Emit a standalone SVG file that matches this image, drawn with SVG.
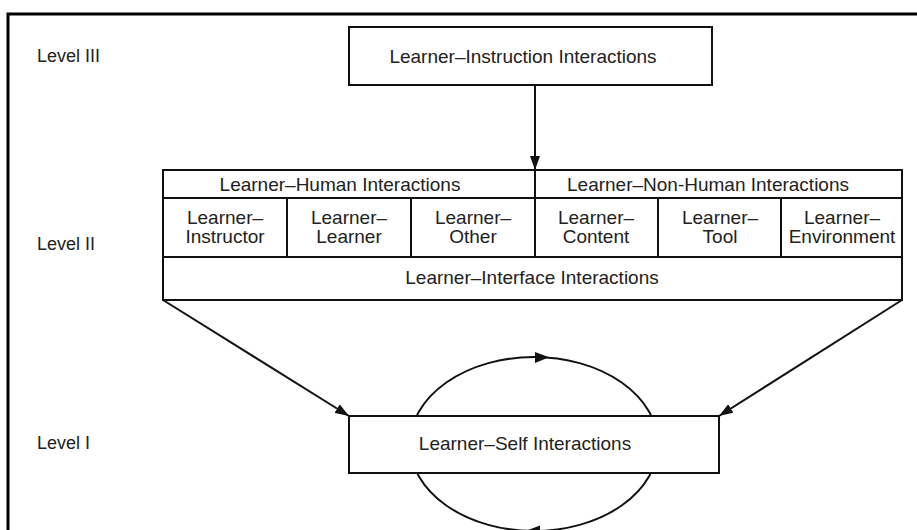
<svg xmlns="http://www.w3.org/2000/svg" width="917" height="530" viewBox="0 0 917 530">
<style>
text{font-family:"Liberation Sans",Arial,sans-serif;font-size:19px;fill:#222;text-anchor:middle}
.lvl{font-size:18px;text-anchor:start}
.box{fill:#fff;stroke:#111;stroke-width:2}
.ln{fill:none;stroke:#111;stroke-width:2}
</style>
<defs>
<marker id="ah" viewBox="0 0 14 10" refX="14" refY="5" markerWidth="14" markerHeight="10" markerUnits="userSpaceOnUse" orient="auto">
<path d="M0,0 L14,5 L0,10 Z" fill="#111"/>
</marker>
</defs>
<rect x="8" y="14" width="920" height="530" fill="none" stroke="#000" stroke-width="3"/>
<text class="lvl" x="37" y="62">Level III</text>
<text class="lvl" x="37" y="250">Level II</text>
<text class="lvl" x="37" y="449">Level I</text>
<g id="connectors">
<line class="ln" x1="535" y1="86" x2="535" y2="170" marker-end="url(#ah)"/>
<line class="ln" x1="163" y1="300" x2="349" y2="416" marker-end="url(#ah)"/>
<line class="ln" x1="902" y1="300" x2="719" y2="416" marker-end="url(#ah)"/>
<ellipse class="ln" cx="534" cy="444" rx="124" ry="87"/>
<path d="M549,357.3 L535,352 L535,363 Z" fill="#111"/>
<path d="M526,530.8 L540,525.5 L540,536 Z" fill="#111"/>
</g>
<g id="instruction">
<rect class="box" x="349" y="27" width="363" height="58"/>
<text x="523" y="63">Learner–Instruction Interactions</text>
</g>
<g id="level2">
<rect class="box" x="163" y="170" width="739" height="130"/>
<line class="ln" x1="163" y1="198" x2="902" y2="198"/>
<line class="ln" x1="163" y1="257" x2="902" y2="257"/>
<line class="ln" x1="535" y1="170" x2="535" y2="257"/>
<line class="ln" x1="287" y1="198" x2="287" y2="257"/>
<line class="ln" x1="411" y1="198" x2="411" y2="257"/>
<line class="ln" x1="658" y1="198" x2="658" y2="257"/>
<line class="ln" x1="781" y1="198" x2="781" y2="257"/>
</g>
<g id="human"><text x="340" y="191">Learner–Human Interactions</text></g>
<g id="nonhuman"><text x="708" y="191">Learner–Non-Human Interactions</text></g>
<g id="instructor"><text x="225" y="224">Learner–</text><text x="225" y="243">Instructor</text></g>
<g id="learner"><text x="349" y="224">Learner–</text><text x="349" y="243">Learner</text></g>
<g id="other"><text x="473" y="224">Learner–</text><text x="473" y="243">Other</text></g>
<g id="content"><text x="596" y="224">Learner–</text><text x="596" y="243">Content</text></g>
<g id="tool"><text x="720" y="224">Learner–</text><text x="720" y="243">Tool</text></g>
<g id="environment"><text x="842" y="224">Learner–</text><text x="842" y="243">Environment</text></g>
<g id="interface"><text x="532" y="284">Learner–Interface Interactions</text></g>
<g id="self">
<rect class="box" x="349" y="416" width="370" height="57"/>
<text x="525" y="450">Learner–Self Interactions</text>
</g>
</svg>
